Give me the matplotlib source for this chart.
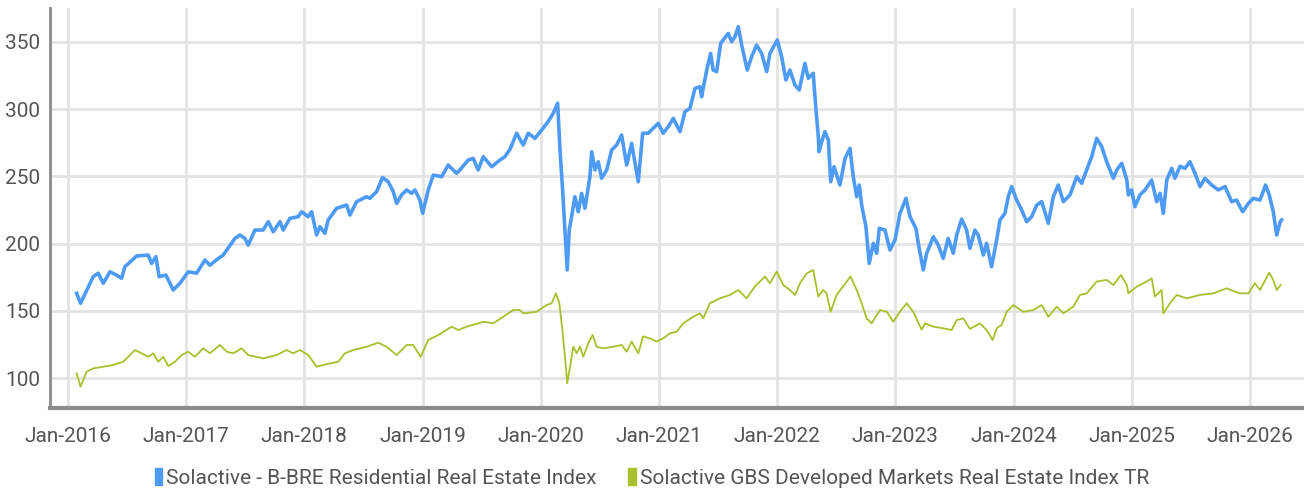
import matplotlib.pyplot as plt
from matplotlib.patches import Patch

plt.rcParams['font.family'] = ['Roboto', 'DejaVu Sans']

# dates as decimal years
bbre_t = [2016.074, 2016.107, 2016.214, 2016.256, 2016.299, 2016.355, 2016.412, 2016.454, 2016.482, 2016.581,
          2016.679, 2016.708, 2016.744, 2016.772, 2016.829, 2016.891, 2016.948, 2017.018, 2017.089, 2017.159,
          2017.201, 2017.286, 2017.314, 2017.413, 2017.455, 2017.497, 2017.525, 2017.582, 2017.652, 2017.695,
          2017.737, 2017.794, 2017.821, 2017.878, 2017.948, 2017.977, 2018.033, 2018.062, 2018.104, 2018.132,
          2018.174, 2018.202, 2018.273, 2018.358, 2018.386, 2018.442, 2018.527, 2018.555, 2018.612, 2018.662,
          2018.710, 2018.752, 2018.781, 2018.823, 2018.866, 2018.908, 2018.936, 2018.978, 2019.001, 2019.048,
          2019.091, 2019.162, 2019.217, 2019.288, 2019.316, 2019.387, 2019.429, 2019.471, 2019.514, 2019.585,
          2019.655, 2019.697, 2019.739, 2019.796, 2019.852, 2019.894, 2019.951, 2020.008, 2020.063, 2020.106,
          2020.143, 2020.162, 2020.185, 2020.205, 2020.224, 2020.241, 2020.261, 2020.289, 2020.317, 2020.346,
          2020.374, 2020.416, 2020.431, 2020.459, 2020.487, 2020.515, 2020.558, 2020.600, 2020.642, 2020.684,
          2020.727, 2020.769, 2020.825, 2020.862, 2020.909, 2020.952, 2020.994, 2021.036, 2021.079, 2021.121,
          2021.178, 2021.220, 2021.262, 2021.305, 2021.347, 2021.361, 2021.404, 2021.437, 2021.459, 2021.488,
          2021.522, 2021.586, 2021.615, 2021.643, 2021.671, 2021.700, 2021.747, 2021.784, 2021.826, 2021.869,
          2021.911, 2021.939, 2022.001, 2022.038, 2022.074, 2022.108, 2022.151, 2022.187, 2022.235, 2022.263,
          2022.305, 2022.328, 2022.348, 2022.354, 2022.377, 2022.404, 2022.433, 2022.453, 2022.481, 2022.531,
          2022.574, 2022.616, 2022.644, 2022.673, 2022.695, 2022.715, 2022.751, 2022.779, 2022.813, 2022.842,
          2022.864, 2022.912, 2022.954, 2022.997, 2023.039, 2023.090, 2023.124, 2023.174, 2023.194, 2023.236,
          2023.265, 2023.321, 2023.363, 2023.405, 2023.447, 2023.490, 2023.519, 2023.561, 2023.603, 2023.631,
          2023.673, 2023.701, 2023.744, 2023.772, 2023.814, 2023.857, 2023.885, 2023.927, 2023.955, 2023.984,
          2024.026, 2024.069, 2024.111, 2024.153, 2024.196, 2024.238, 2024.294, 2024.336, 2024.378, 2024.421,
          2024.477, 2024.534, 2024.576, 2024.619, 2024.661, 2024.703, 2024.746, 2024.788, 2024.844, 2024.873,
          2024.915, 2024.958, 2024.971, 2024.999, 2025.027, 2025.069, 2025.112, 2025.168, 2025.211, 2025.239,
          2025.267, 2025.296, 2025.338, 2025.365, 2025.408, 2025.450, 2025.492, 2025.535, 2025.577, 2025.619,
          2025.676, 2025.732, 2025.789, 2025.845, 2025.887, 2025.938, 2025.986, 2026.028, 2026.085, 2026.132,
          2026.163, 2026.197, 2026.226, 2026.256, 2026.268]
bbre_v = [163.0, 155.6, 175.4, 178.0, 170.5, 179.0, 176.6, 174.2, 182.8, 190.8,
          191.5, 185.3, 190.3, 175.4, 176.6, 165.5, 170.5, 179.0, 178.0, 187.8,
          184.0, 189.8, 191.5, 203.9, 206.4, 203.9, 198.9, 210.1, 210.1, 216.3,
          208.8, 216.3, 210.1, 218.8, 220.0, 223.7, 220.0, 223.7, 206.4, 212.6,
          207.7, 217.6, 226.3, 228.7, 221.3, 231.2, 234.9, 233.7, 238.7, 249.2,
          246.0, 238.7, 230.0, 236.2, 239.9, 237.4, 239.9, 232.4, 222.5, 239.9,
          251.0, 249.8, 258.5, 252.3, 254.8, 262.2, 263.4, 254.8, 264.7, 257.2,
          262.2, 264.7, 270.0, 282.1, 273.4, 282.1, 278.3, 284.5, 290.8, 297.0,
          304.4, 270.9, 239.9, 210.1, 180.4, 210.1, 220.0, 234.9, 223.7, 237.4,
          226.3, 249.8, 268.4, 254.8, 260.9, 248.6, 254.8, 269.6, 273.4, 280.8,
          258.5, 274.6, 246.0, 282.1, 282.1, 285.8, 289.5, 282.1, 287.0, 293.2,
          283.3, 298.1, 300.6, 315.5, 316.7, 309.3, 329.1, 341.5, 329.1, 327.9,
          349.0, 356.4, 350.2, 353.9, 361.4, 347.7, 329.1, 339.0, 347.7, 341.5,
          327.9, 341.5, 351.5, 339.0, 321.7, 329.1, 317.9, 314.3, 334.1, 323.0,
          326.7, 300.0, 280.0, 268.4, 275.8, 283.3, 277.1, 246.0, 257.2, 243.6,
          263.4, 270.9, 249.8, 234.9, 243.6, 228.7, 212.6, 185.3, 200.2, 192.8,
          211.4, 210.1, 195.2, 202.7, 222.5, 233.7, 220.0, 211.4, 200.2, 180.4,
          192.8, 205.1, 198.9, 189.0, 203.9, 192.8, 206.4, 218.2, 210.0, 196.5,
          210.1, 206.4, 191.5, 200.2, 182.8, 202.7, 217.6, 222.5, 234.9, 242.4,
          232.4, 225.0, 216.3, 220.0, 228.7, 231.2, 215.1, 234.9, 243.6, 231.2,
          236.2, 249.8, 244.9, 254.8, 264.7, 278.3, 272.1, 260.9, 248.6, 254.8,
          259.8, 247.3, 236.2, 239.9, 227.5, 236.2, 239.9, 247.3, 231.2, 237.4,
          222.5, 247.3, 256.0, 248.6, 257.5, 256.0, 260.9, 252.3, 242.4, 248.6,
          243.6, 239.9, 242.4, 231.2, 232.4, 223.7, 229.9, 233.7, 232.4, 243.6,
          236.2, 223.7, 206.4, 216.3, 217.6]

gbs_t = [2016.074, 2016.107, 2016.158, 2016.214, 2016.299, 2016.383, 2016.468, 2016.510, 2016.567, 2016.624,
         2016.679, 2016.722, 2016.764, 2016.806, 2016.849, 2016.905, 2016.962, 2017.018, 2017.074, 2017.145,
         2017.201, 2017.286, 2017.343, 2017.398, 2017.470, 2017.525, 2017.652, 2017.766, 2017.850, 2017.906,
         2017.963, 2018.033, 2018.104, 2018.160, 2018.217, 2018.287, 2018.343, 2018.414, 2018.527, 2018.625,
         2018.696, 2018.781, 2018.866, 2018.921, 2018.984, 2019.048, 2019.133, 2019.246, 2019.302, 2019.373,
         2019.471, 2019.514, 2019.598, 2019.683, 2019.767, 2019.824, 2019.852, 2019.965, 2020.050, 2020.092,
         2020.129, 2020.157, 2020.177, 2020.205, 2020.224, 2020.253, 2020.275, 2020.304, 2020.332, 2020.360,
         2020.402, 2020.439, 2020.473, 2020.529, 2020.614, 2020.684, 2020.727, 2020.769, 2020.825, 2020.867,
         2020.924, 2020.981, 2021.036, 2021.093, 2021.150, 2021.206, 2021.290, 2021.347, 2021.375, 2021.431,
         2021.516, 2021.601, 2021.671, 2021.742, 2021.812, 2021.897, 2021.939, 2021.996, 2022.052, 2022.108,
         2022.151, 2022.193, 2022.250, 2022.305, 2022.348, 2022.389, 2022.418, 2022.453, 2022.503, 2022.574,
         2022.620, 2022.673, 2022.715, 2022.757, 2022.799, 2022.870, 2022.927, 2022.982, 2023.039, 2023.096,
         2023.151, 2023.222, 2023.250, 2023.321, 2023.405, 2023.476, 2023.519, 2023.575, 2023.631, 2023.716,
         2023.772, 2023.823, 2023.857, 2023.899, 2023.942, 2023.998, 2024.083, 2024.167, 2024.238, 2024.294,
         2024.365, 2024.421, 2024.505, 2024.562, 2024.619, 2024.703, 2024.788, 2024.844, 2024.909, 2024.958,
         2024.971, 2025.042, 2025.127, 2025.168, 2025.196, 2025.253, 2025.267, 2025.323, 2025.380, 2025.464,
         2025.577, 2025.690, 2025.802, 2025.915, 2025.986, 2026.042, 2026.085, 2026.163, 2026.197, 2026.226,
         2026.260]
gbs_v = [103.5, 93.6, 104.7, 107.2, 108.4, 109.7, 112.1, 115.8, 120.8, 118.4,
         115.8, 118.4, 112.1, 115.8, 108.9, 112.1, 117.1, 119.6, 115.8, 122.1,
         118.4, 124.6, 119.6, 118.4, 122.1, 117.1, 114.6, 117.1, 120.8, 118.4,
         120.8, 117.1, 108.4, 109.7, 110.9, 112.1, 118.4, 120.8, 123.3, 126.3,
         123.3, 117.1, 124.6, 124.6, 115.8, 128.3, 132.0, 138.2, 135.7, 138.2,
         140.7, 141.9, 140.7, 145.6, 150.6, 150.6, 148.1, 149.3, 154.3, 155.6,
         163.0, 155.6, 140.7, 115.8, 96.1, 110.9, 123.3, 118.4, 123.3, 115.8,
         125.8, 132.0, 123.3, 122.1, 123.3, 124.6, 119.6, 127.1, 118.4, 131.0,
         129.5, 127.1, 129.5, 133.2, 134.5, 140.7, 145.6, 148.1, 144.4, 155.6,
         159.3, 161.8, 165.5, 159.3, 168.2, 175.5, 170.5, 179.2, 169.2, 165.5,
         161.8, 170.5, 177.8, 180.4, 160.6, 165.5, 163.0, 149.3, 161.8, 170.0,
         175.5, 165.5, 155.6, 144.4, 140.7, 150.6, 149.3, 141.9, 149.3, 155.6,
         149.3, 136.0, 140.7, 138.2, 137.0, 135.7, 143.1, 144.4, 136.5, 140.7,
         135.7, 128.3, 137.0, 139.5, 149.3, 154.3, 149.3, 150.6, 154.3, 145.6,
         153.1, 148.1, 153.1, 161.8, 163.0, 171.8, 173.0, 169.2, 176.7, 169.2,
         163.0, 168.0, 171.8, 174.2, 160.6, 165.5, 148.1, 155.6, 161.8, 159.3,
         161.8, 163.0, 166.7, 163.0, 163.0, 170.5, 165.5, 178.4, 172.9, 165.5,
         169.2]

labels = ['Solactive - B-BRE Residential Real Estate Index',
          'Solactive GBS Developed Markets Real Estate Index TR']
colors = ['#4e9bf5', '#a9bf2d']
years = list(range(2016, 2027))
yticks = [100, 150, 200, 250, 300, 350]

fig = plt.figure(figsize=(13.04, 4.93), dpi=100)
ax = fig.add_axes([0.0383, 0.1724, 0.9617, 0.8114])

ax.plot(bbre_t, bbre_v, color=colors[0], linewidth=2.6, solid_joinstyle='round')
ax.plot(gbs_t, gbs_v, color=colors[1], linewidth=1.3)

ax.set_xlim(2015.848, 2026.457)
ax.set_ylim(77.7, 375.3)
ax.set_xticks(years)
ax.set_xticklabels(['Jan-%d' % y for y in years])
ax.set_yticks(yticks)

ax.grid(True, color='#e3e3e3', linewidth=2)
ax.set_axisbelow(True)
ax.tick_params(length=0, labelsize=15, colors='#555555')
ax.tick_params(axis='x', pad=14)
ax.tick_params(axis='y', pad=7)
for s in ['top', 'right']:
    ax.spines[s].set_visible(False)
ax.spines['left'].set_color('#8a8a8a')
ax.spines['left'].set_linewidth(2)
ax.spines['bottom'].set_color('#8a8a8a')
ax.spines['bottom'].set_linewidth(3)

handles = [Patch(color=c) for c in colors]
fig.legend(handles, labels, loc='center', bbox_to_anchor=(0.5, 0.031), ncol=2, frameon=False,
           fontsize=15, labelcolor='#555555', handlelength=0.35, handleheight=0.9,
           handletextpad=0.2, columnspacing=1.5)

fig.savefig('out.png', dpi=100)
